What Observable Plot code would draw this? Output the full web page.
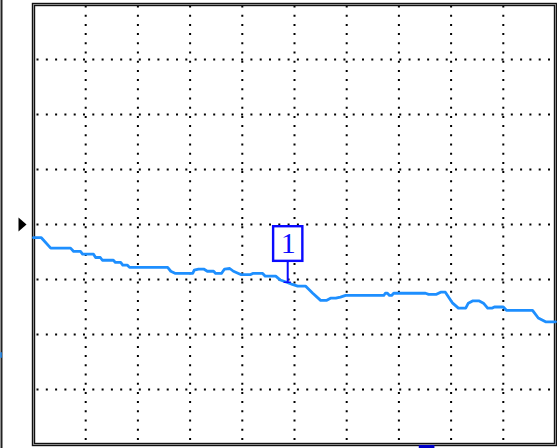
<!DOCTYPE html>
<html><head><meta charset="utf-8">
<script src="https://cdn.jsdelivr.net/npm/d3@7"></script>
<script src="https://cdn.jsdelivr.net/npm/@observablehq/plot@0.6"></script>
<style>html,body{margin:0;padding:0;background:#fff;} #chart svg{display:block}</style>
</head><body><div id="chart"></div><script>
// Time in horizontal divisions (0..10)
const timeDiv = [0,0.15,0.33,0.71,0.77,0.90,0.94,1.15,1.19,1.28,1.32,1.53,1.57,1.67,1.71,1.80,1.84,2.57,2.63,2.72,3.05,3.08,3.16,3.26,3.33,3.45,3.49,3.60,3.66,3.76,3.83,3.97,4.16,4.20,4.39,4.44,4.64,4.73,4.85,4.96,5.06,5.21,5.35,5.50,5.61,5.69,5.79,5.88,5.98,6.71,6.74,6.78,6.82,6.86,6.90,7.51,7.57,7.72,7.80,7.89,8.03,8.14,8.28,8.33,8.41,8.54,8.62,8.70,8.79,8.83,9.00,9.06,9.56,9.67,9.81,10.0];
// Signal level in vertical divisions (0 = ground marker)
const levelDiv = [-0.24,-0.24,-0.43,-0.43,-0.49,-0.49,-0.54,-0.54,-0.60,-0.60,-0.65,-0.65,-0.69,-0.69,-0.74,-0.74,-0.78,-0.78,-0.85,-0.89,-0.89,-0.83,-0.81,-0.81,-0.85,-0.85,-0.89,-0.89,-0.81,-0.80,-0.85,-0.91,-0.91,-0.89,-0.89,-0.94,-0.94,-1.01,-1.05,-1.09,-1.12,-1.12,-1.25,-1.38,-1.38,-1.34,-1.34,-1.32,-1.29,-1.29,-1.25,-1.25,-1.29,-1.29,-1.25,-1.25,-1.27,-1.27,-1.23,-1.23,-1.43,-1.52,-1.52,-1.43,-1.39,-1.39,-1.43,-1.52,-1.52,-1.50,-1.50,-1.56,-1.56,-1.70,-1.77,-1.77];
const gridTimeTicks = [1,2,3,4,5,6,7,8,9];
const gridLevelTicks = [-3,-2,-1,0,1,2,3];
const markerTime = [4.87];
const markerValue = [-1.05];
const markerLabel = ["1"];
const groundLevel = [0];
const triggerTime = [7.54];
const offscreenLevel = [-2.38];

const trace = timeDiv.map((t, i) => ({t, v: levelDiv[i]}));
const markers = markerTime.map((t, i) => ({t, v: markerValue[i], label: markerLabel[i]}));

const rightTriangle = {draw(ctx){ ctx.moveTo(-4,-7); ctx.lineTo(4,0); ctx.lineTo(-4,7); ctx.closePath(); }};

const chart = Plot.plot({
  width: 557, height: 448,
  marginLeft: 33, marginRight: 2, marginTop: 4, marginBottom: 4,
  x: {domain: [0, 10], axis: null},
  y: {domain: [-4, 4], axis: null},
  style: {background: "#fff", overflow: "visible"},
  marks: [
    Plot.ruleX(gridTimeTicks, {stroke: "#000", strokeWidth: 2, strokeDasharray: "2,7.2", strokeDashoffset: -1.5}),
    Plot.ruleY(gridLevelTicks, {stroke: "#000", strokeWidth: 2, strokeDasharray: "2,7.3", strokeDashoffset: -3.5}),
    Plot.frame({stroke: "#111", strokeWidth: 3.4}),
    Plot.frame({stroke: "#8a8a8a", strokeWidth: 1}),
    Plot.ruleX([0], {dx: -32, stroke: "#222", strokeWidth: 2, insetTop: -4, insetBottom: -4}),
    Plot.ruleX([0], {dx: -32.5, y1: offscreenLevel.map(d => d + 0.05), y2: offscreenLevel.map(d => d - 0.05), stroke: "#1e90ff", strokeWidth: 1.5}),
    Plot.dot(groundLevel, {x: () => 0, y: d => d, dx: -11, symbol: rightTriangle, fill: "#000", stroke: "none", r: 6}),
    Plot.line(trace, {x: "t", y: "v", stroke: "#1e8fff", strokeWidth: 2.8, curve: "linear"}),
    Plot.rect(triggerTime, {x1: d => d - 0.15, x2: d => d + 0.15, y1: -4, y2: -4, insetTop: 1, insetBottom: -4, fill: "#0000c8"}),
    Plot.ruleX(markers, {x: "t", y1: "v", y2: d => d.v + 0.38, stroke: "#0a0aff", strokeWidth: 2}),
    Plot.ruleY(markers, {y: "v", x1: d => d.t - 0.07, x2: d => d.t + 0.07, stroke: "#0a0aff", strokeWidth: 1.5}),
    Plot.rect(markers, {x1: d => d.t - 0.27, x2: d => d.t + 0.29, y1: d => d.v + 0.38, y2: d => d.v + 1.01, fill: "#fff", stroke: "#0a0aff", strokeWidth: 2.4}),
    Plot.text(markers, {x: d => d.t + 0.01, y: d => d.v + 0.70, text: "label", fill: "#0a0aff", fontSize: 30, fontFamily: "Liberation Serif, DejaVu Serif, serif"})
  ]
});
document.getElementById("chart").appendChild(chart);
</script></body></html>
